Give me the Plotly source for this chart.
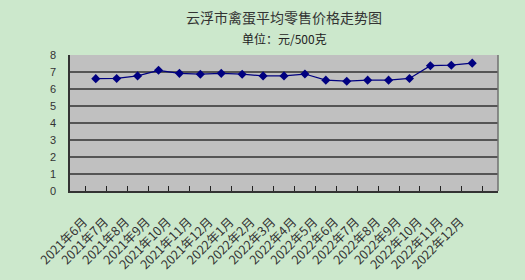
import plotly.graph_objects as go

months = ["2021年6月", "2021年7月", "2021年8月", "2021年9月", "2021年10月", "2021年11月",
          "2021年12月", "2022年1月", "2022年2月", "2022年3月", "2022年4月", "2022年5月",
          "2022年6月", "2022年7月", "2022年8月", "2022年9月", "2022年10月", "2022年11月",
          "2022年12月"]
prices = [6.61, 6.62, 6.77, 7.10, 6.92, 6.87, 6.92, 6.87, 6.77, 6.77, 6.88, 6.52,
          6.46, 6.52, 6.52, 6.62, 7.37, 7.40, 7.52]
y_ticks = [0, 1, 2, 3, 4, 5, 6, 7, 8]

title_text = "云浮市禽蛋平均零售价格走势图"
subtitle_text = "单位：元/500克"

fig = go.Figure()
fig.add_trace(go.Scatter(
    x=months, y=prices, mode="lines+markers",
    line=dict(color="#000080", width=1.2),
    marker=dict(symbol="diamond", size=7, color="#000080"),
    showlegend=False,
))

fig.update_layout(
    width=525, height=280,
    margin=dict(l=70, r=27, t=55, b=89),
    paper_bgcolor="#CCE8CC",
    plot_bgcolor="#C0C0C0",
    font=dict(family="Noto Sans CJK SC", size=12, color="#222"),
    annotations=[
        dict(text=title_text, x=0.5, y=1, xref="paper", yref="paper",
             yanchor="middle", yshift=38,
             showarrow=False, font=dict(size=14, color="#333", family="Noto Sans CJK SC")),
        dict(text=subtitle_text, x=0.5, y=1, xref="paper", yref="paper",
             yanchor="middle", yshift=17,
             showarrow=False, font=dict(size=12, color="#222", family="Noto Sans CJK SC")),
    ],
    shapes=[
        dict(type="line", xref="paper", yref="paper", x0=1, x1=1, y0=0, y1=1,
             line=dict(color="#707070", width=1.5)),
    ],
)

fig.update_xaxes(
    type="category",
    tickangle=-45,
    showgrid=False, automargin=False,
    showline=True, linecolor="#333", linewidth=1.5,
    ticks="inside", tickson="boundaries", ticklen=5, tickcolor="#222", tickwidth=1,
    tickfont=dict(size=12.5, color="#333", family="Noto Sans CJK SC"),
    ticklabelstandoff=17, ticklabelshift=-12,
    zeroline=False,
)
fig.update_yaxes(
    range=[0, 8], tickvals=y_ticks, automargin=False,
    showgrid=True, gridcolor="#555555", gridwidth=2,
    showline=True, linecolor="#333", linewidth=1.5,
    ticks="", ticklabelstandoff=10,
    tickfont=dict(size=11, color="#333", family="Liberation Sans"),
    zeroline=False,
)

fig.write_html("out.html")
